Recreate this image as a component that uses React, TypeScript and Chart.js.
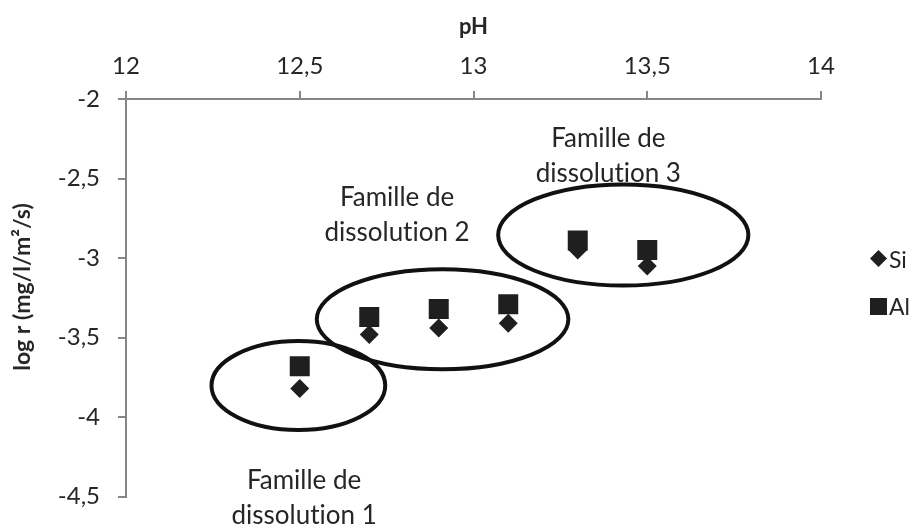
import React, { useEffect, useRef } from 'react';
import { Chart, registerables } from 'chart.js';

Chart.register(...registerables);

// ---- data ----
const phValues = [12.5, 12.7, 12.9, 13.1, 13.3, 13.5];
const siValues = [-3.82, -3.48, -3.44, -3.41, -2.95, -3.05];
const alValues = [-3.68, -3.37, -3.32, -3.29, -2.89, -2.95];
const xTicks = [12, 12.5, 13, 13.5, 14];
const yTicks = [-2, -2.5, -3, -3.5, -4, -4.5];
const seriesNames = ['Si', 'Al'];

// dissolution families (annotations, in data units)
const familyLine1 = ['Famille de', 'Famille de', 'Famille de'];
const familyLine2 = ['dissolution 1', 'dissolution 2', 'dissolution 3'];
const familyTextX = [12.5125, 12.78, 13.388];
const familyTextY = [-4.4505, -2.673, -2.299];
const ellipseCX = [12.496, 12.911, 13.431];
const ellipseCY = [-3.802, -3.385, -2.855];
const ellipseRX = [0.25, 0.362, 0.36];
const ellipseRY = [0.28, 0.315, 0.318];

const INK = '#1f1f1f';
const TEXT = '#262626';
const AXIS = '#868686';
const FONT = 'Lato';

const fmt = (v: number) => String(Math.round(v * 10) / 10).replace('.', ',');
// prevent the "ti" ligature of the font
const noLig = (s: string) => s.replace(/ti/g, 't\u200Ci').replace(/fi/g, 'f\u200Ci');

const annotationPlugin = {
  id: 'familyAnnotations',
  afterDraw(chart: any) {
    const { ctx, scales } = chart;
    const xs = scales.x;
    const ys = scales.y;
    ctx.save();
    // ellipses
    ctx.strokeStyle = '#111';
    ctx.lineWidth = 4;
    for (let i = 0; i < ellipseCX.length; i++) {
      const cx = xs.getPixelForValue(ellipseCX[i]);
      const cy = ys.getPixelForValue(ellipseCY[i]);
      const rx = Math.abs(xs.getPixelForValue(ellipseCX[i] + ellipseRX[i]) - cx);
      const ry = Math.abs(ys.getPixelForValue(ellipseCY[i] + ellipseRY[i]) - cy);
      ctx.beginPath();
      ctx.ellipse(cx, cy, rx, ry, 0, 0, Math.PI * 2);
      ctx.stroke();
    }
    // family labels
    ctx.fillStyle = TEXT;
    ctx.font = `26px ${FONT}`;
    ctx.textAlign = 'center';
    ctx.textBaseline = 'alphabetic';
    for (let i = 0; i < familyLine1.length; i++) {
      const x = xs.getPixelForValue(familyTextX[i]);
      const y = ys.getPixelForValue(familyTextY[i]);
      ctx.fillText(noLig(familyLine1[i]), x, y);
      ctx.fillText(noLig(familyLine2[i]), x, y + 35);
    }
    // y axis title
    ctx.save();
    ctx.translate(22.5, 287);
    ctx.rotate(-Math.PI / 2);
    ctx.font = `bold 23px ${FONT}`;
    ctx.textBaseline = 'middle';
    ctx.textAlign = 'center';
    ctx.fillText('log r (mg/l/m²/s)', 0, 0);
    ctx.restore();
    // legend
    ctx.fillStyle = INK;
    const lx = 878.5;
    ctx.beginPath();
    ctx.moveTo(lx - 8.5, 258.5);
    ctx.lineTo(lx, 250);
    ctx.lineTo(lx + 8.5, 258.5);
    ctx.lineTo(lx, 267);
    ctx.closePath();
    ctx.fill();
    ctx.fillRect(lx - 8.5, 298, 17, 17);
    ctx.fillStyle = TEXT;
    ctx.font = `23px ${FONT}`;
    ctx.textAlign = 'left';
    ctx.textBaseline = 'alphabetic';
    ctx.fillText(seriesNames[0], 889, 268);
    ctx.fillText(seriesNames[1], 889, 315);
    ctx.restore();
  },
};

export default function App() {
  const canvasRef = useRef<HTMLCanvasElement | null>(null);

  useEffect(() => {
    if (!canvasRef.current) return;
    const chart = new Chart(canvasRef.current, {
      type: 'scatter',
      data: {
        datasets: [
          {
            label: seriesNames[0],
            data: phValues.map((x, i) => ({ x, y: siValues[i] })),
            pointStyle: 'rectRot',
            pointRadius: 9.5,
            backgroundColor: INK,
            borderWidth: 0,
          },
          {
            label: seriesNames[1],
            data: phValues.map((x, i) => ({ x, y: alValues[i] })),
            pointStyle: 'rect',
            pointRadius: 14.14,
            backgroundColor: INK,
            borderWidth: 0,
          },
        ],
      },
      options: {
        animation: false,
        responsive: true,
        maintainAspectRatio: false,
        events: [],
        layout: { padding: { left: 0, top: 0, right: 94, bottom: 29 } },
        plugins: {
          legend: { display: false },
          tooltip: { enabled: false },
        },
        scales: {
          x: {
            type: 'linear',
            position: 'top',
            min: 12,
            max: 14,
            afterBuildTicks: (s: any) => {
              s.ticks = xTicks.map((v) => ({ value: v }));
            },
            afterFit: (s: any) => {
              s.height = 99;
            },
            grid: {
              drawOnChartArea: false,
              drawTicks: true,
              tickLength: 8,
              color: AXIS,
              lineWidth: 2,
            },
            border: { display: true, color: AXIS, width: 2 },
            ticks: {
              padding: 10,
              color: TEXT,
              font: { family: FONT, size: 24 },
              callback: (v: any) => fmt(Number(v)),
            },
            title: {
              display: true,
              text: 'pH',
              color: TEXT,
              font: { family: FONT, size: 22, weight: 'bold' },
              padding: { top: 14, bottom: 0 },
            },
          },
          y: {
            type: 'linear',
            position: 'left',
            min: -4.5,
            max: -2,
            afterBuildTicks: (s: any) => {
              s.ticks = yTicks.map((v) => ({ value: v }));
            },
            afterFit: (s: any) => {
              s.width = 126;
            },
            grid: {
              drawOnChartArea: false,
              drawTicks: true,
              tickLength: 8,
              color: AXIS,
              lineWidth: 2,
            },
            border: { display: true, color: AXIS, width: 2 },
            ticks: {
              padding: 18,
              color: TEXT,
              font: { family: FONT, size: 24 },
              callback: (v: any) => fmt(Number(v)),
            },
            title: { display: false },
          },
        },
      },
      plugins: [annotationPlugin],
    });
    return () => chart.destroy();
  }, []);

  return (
    <div style={{ position: 'absolute', left: 0, top: 0, width: 915, height: 529 }}>
      <canvas ref={canvasRef} />
    </div>
  );
}
